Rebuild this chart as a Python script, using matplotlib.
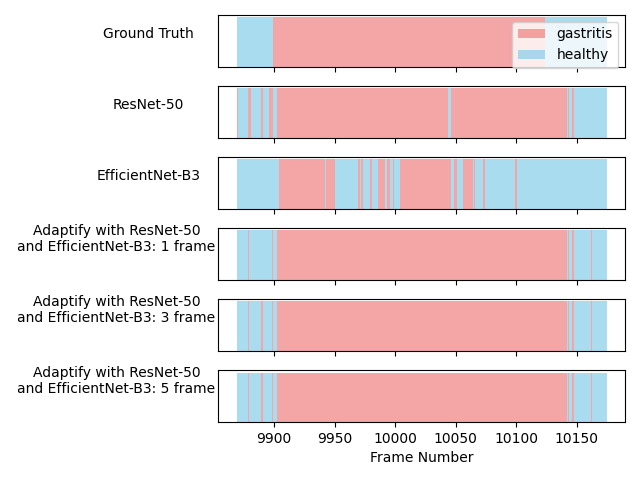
import numpy as np
import matplotlib
matplotlib.use('Agg')
from matplotlib import pyplot as plt

# segment edges (frame numbers) and the label of each segment
gt_edges = [9869, 9899, 10124, 10175]
gt_states = ['healthy', 'gastritis', 'healthy']

resnet_edges = [9869, 9870, 9878, 9881, 9889, 9891, 9896, 9899, 9902, 10044, 10046,
                10142, 10143, 10144, 10146, 10148, 10175]
resnet_states = ['gastritis', 'healthy', 'gastritis', 'healthy', 'gastritis', 'healthy',
                 'gastritis', 'healthy', 'gastritis', 'healthy', 'gastritis', 'healthy',
                 'gastritis', 'healthy', 'gastritis', 'healthy']

effnet_edges = [9869, 9904, 9942, 9943, 9950, 9969, 9971, 9972, 9973, 9979, 9981, 9986,
                9992, 9993, 9996, 9998, 9999, 10004, 10046, 10049, 10051, 10056, 10064,
                10065, 10066, 10073, 10074, 10099, 10101, 10175]
effnet_states = ['healthy', 'gastritis'] * 14 + ['healthy']

ada1_edges = [9869, 9878, 9879, 9898, 9899, 9902, 10142, 10143, 10144, 10146, 10148,
              10162, 10163, 10175]
ada1_states = ['healthy', 'gastritis'] * 6 + ['healthy']

ada3_edges = [9869, 9878, 9879, 9889, 9891, 9898, 9899, 9902, 10142, 10143, 10144,
              10146, 10148, 10162, 10163, 10175]
ada3_states = ['healthy', 'gastritis'] * 7 + ['healthy']

ada5_edges = [9869, 9878, 9879, 9889, 9891, 9898, 9899, 9902, 10142, 10143, 10144,
              10146, 10148, 10162, 10163, 10175]
ada5_states = ['healthy', 'gastritis'] * 7 + ['healthy']

row_names = ['Ground Truth', 'ResNet-50', 'EfficientNet-B3',
             'Adaptify with ResNet-50\nand EfficientNet-B3: 1 frame',
             'Adaptify with ResNet-50\nand EfficientNet-B3: 3 frame',
             'Adaptify with ResNet-50\nand EfficientNet-B3: 5 frame']
rows = [(gt_edges, gt_states), (resnet_edges, resnet_states), (effnet_edges, effnet_states),
        (ada1_edges, ada1_states), (ada3_edges, ada3_states), (ada5_edges, ada5_states)]

colors = {'gastritis': 'lightcoral', 'healthy': 'skyblue'}

fig, axes = plt.subplots(6, 1, figsize=(6.4, 4.8), dpi=100, sharex=True)
fig.subplots_adjust(left=0.341, right=0.977, top=0.969, bottom=0.121, hspace=0.37)

for ax, name, (edges, states) in zip(axes, row_names, rows):
    edges = np.array(edges)
    starts = edges[:-1]
    widths = np.diff(edges)
    states = np.array(states)
    for st in ['gastritis', 'healthy']:
        m = states == st
        ax.bar(starts[m], np.ones(m.sum()), width=widths[m], align='edge',
               color=colors[st], alpha=0.7, linewidth=0, label=st)
    ax.set_yticks([])
    ax.set_ylabel(name, rotation=0)
    if '\n' in name:
        ax.yaxis.set_label_coords(-0.25, 0.5)
    else:
        ax.yaxis.set_label_coords(-0.172, 0.5)

axes[0].legend(loc='upper right')
axes[-1].set_xticks([9900, 9950, 10000, 10050, 10100, 10150])
axes[-1].set_xlabel('Frame Number')

plt.savefig('out.png')
